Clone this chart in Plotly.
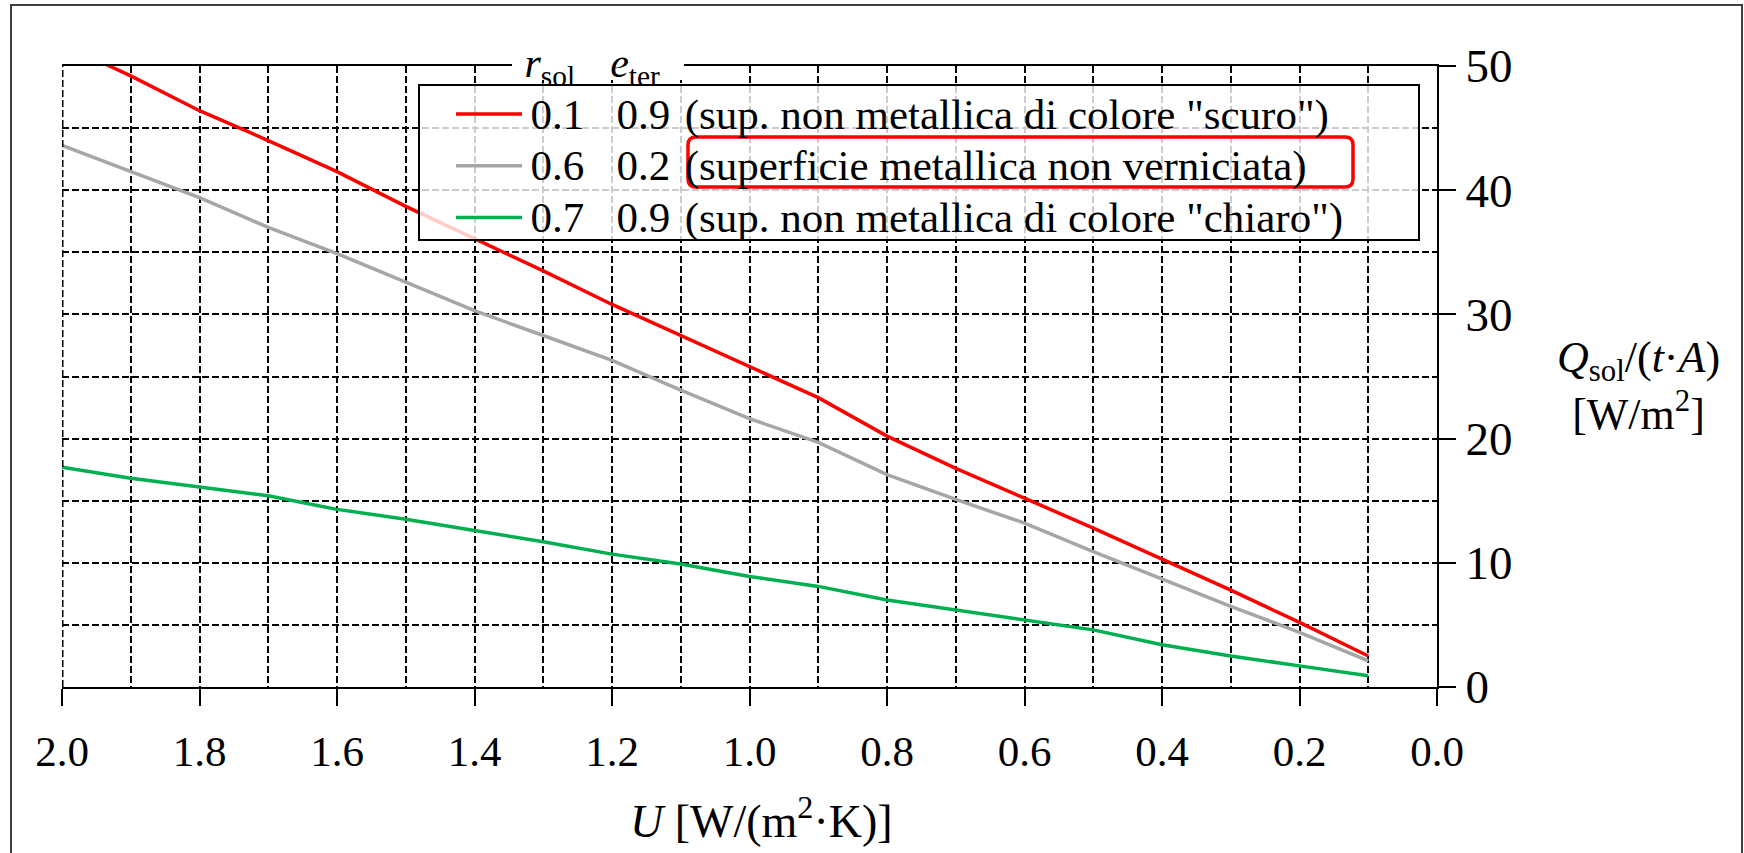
import plotly.graph_objects as go

# ---------------- data ----------------
U = [2.0, 1.9, 1.8, 1.7, 1.6, 1.5, 1.4, 1.3, 1.2, 1.1, 1.0, 0.9, 0.8, 0.7, 0.6, 0.5, 0.4, 0.3, 0.2, 0.1]
q_scuro = [51.8, 49.2, 46.4, 44.0, 41.5, 38.7, 36.1, 33.5, 30.8, 28.3, 25.8, 23.3, 20.2, 17.6, 15.2, 12.8, 10.3, 7.8, 5.2, 2.5]
q_metal = [43.6, 41.5, 39.4, 37.0, 34.9, 32.6, 30.3, 28.3, 26.3, 23.9, 21.6, 19.7, 17.1, 15.1, 13.2, 10.9, 8.7, 6.5, 4.4, 2.1]
q_chiaro = [17.7, 16.8, 16.1, 15.4, 14.3, 13.5, 12.6, 11.7, 10.7, 9.9, 8.9, 8.1, 7.0, 6.2, 5.35, 4.6, 3.4, 2.5, 1.7, 0.9]

r_sol = ["0.1", "0.6", "0.7"]
e_ter = ["0.9", "0.2", "0.9"]
descr = ['(sup. non metallica di colore "scuro")',
         '(superficie metallica non verniciata)',
         '(sup. non metallica di colore "chiaro")']
colors = ["#FF0000", "#A6A6A6", "#00B050"]

x_ticks = [2.0, 1.8, 1.6, 1.4, 1.2, 1.0, 0.8, 0.6, 0.4, 0.2, 0.0]
y_ticks = [0, 10, 20, 30, 40, 50]

# ---------------- layout helpers (pixel -> paper) ----------------
W, H = 1744, 853
L, R, T, B = 62, 1437, 66, 687


def xp(px):
    return (px - L) / (R - L)


def yp(py):
    return (B - py) / (B - T)


FONT = "Liberation Serif, Times New Roman, serif"
NB = "\u00a0"
HAIR = "\u200a"

fig = go.Figure()
for q, r, e, d, c in zip([q_scuro, q_metal, q_chiaro], r_sol, e_ter, descr, colors):
    label = f'<span style="font-size:43px">{HAIR}{r}{NB*3}{e}{NB}{HAIR}{d}</span>'
    fig.add_trace(go.Scatter(x=U, y=q, mode="lines", name=label,
                             line=dict(color=c, width=3.5)))

dash = "7px,3px"
fig.update_layout(
    width=W, height=H,
    margin=dict(l=L, r=W - R, t=T, b=H - B),
    paper_bgcolor="white", plot_bgcolor="white",
    font=dict(family=FONT, color="black", size=43),
    showlegend=True,
    legend=dict(x=xp(419), y=yp(83), xanchor="left", yanchor="top",
                bgcolor="rgba(0,0,0,0)", borderwidth=0,
                font=dict(size=37.5, family=FONT, color="black"), itemwidth=66,
                indentation=32, tracegroupgap=0),
    xaxis=dict(range=[2.0, 0.0], tickvals=x_ticks, ticktext=[f"{v:.1f}" for v in x_ticks],
               ticks="outside", ticklen=17, tickwidth=2, tickcolor="black",
               showline=True, linecolor="black", linewidth=2, mirror=True,
               showgrid=True, gridcolor="black", gridwidth=2, griddash=dash,
               minor=dict(tick0=0, dtick=0.1, showgrid=True, gridcolor="black",
                          gridwidth=2, griddash=dash, ticks=""),
               zeroline=False, tickfont=dict(size=43), ticklabelstandoff=8),
    yaxis=dict(range=[0, 50], side="right", tickvals=y_ticks,
               ticks="outside", ticklen=17, tickwidth=2, tickcolor="black",
               showline=True, linecolor="black", linewidth=2,
               showgrid=True, gridcolor="black", gridwidth=2, griddash=dash,
               minor=dict(tick0=0, dtick=5, showgrid=True, gridcolor="black",
                          gridwidth=2, griddash=dash, ticks=""),
               zeroline=False, tickfont=dict(size=47), ticklabelstandoff=0),
)

# left boundary (dashed, heavier)
fig.add_shape(type="line", xref="x", yref="y", x0=x_ticks[0], x1=x_ticks[0],
              y0=y_ticks[0], y1=y_ticks[-1], line=dict(color="black", width=3, dash=dash))

# legend box (semi-transparent so the grid shows faintly through it)
fig.add_shape(type="rect", xref="paper", yref="paper", x0=xp(419), x1=xp(1419),
              y0=yp(240), y1=yp(85), fillcolor="rgba(255,255,255,0.8)",
              line=dict(color="black", width=2), layer="above")

# gap in the top frame line for the legend header
fig.add_shape(type="rect", xref="paper", yref="paper", x0=xp(512), x1=xp(684),
              y0=yp(80), y1=yp(56), fillcolor="white", line=dict(width=0), layer="above")

# outer frame of the picture
fig.add_shape(type="rect", xref="paper", yref="paper", x0=xp(11), x1=xp(1742),
              y0=yp(900), y1=yp(5), line=dict(color="#404040", width=2), layer="above")


# red rounded rectangle highlighting the metallic surface entry
def rrect(x0, y0, x1, y1, r):
    pts = [("M", x0 + r, y0), ("L", x1 - r, y0), ("Q", x1, y0, x1, y0 + r),
           ("L", x1, y1 - r), ("Q", x1, y1, x1 - r, y1), ("L", x0 + r, y1),
           ("Q", x0, y1, x0, y1 - r), ("L", x0, y0 + r), ("Q", x0, y0, x0 + r, y0)]
    out = []
    for p in pts:
        coords = p[1:]
        s = [f"{xp(coords[i]):.5f},{yp(coords[i+1]):.5f}" for i in range(0, len(coords), 2)]
        out.append(p[0] + " ".join(s))
    return " ".join(out) + " Z"


fig.add_shape(type="path", xref="paper", yref="paper", path=rrect(688, 137, 1353, 187, 8),
              line=dict(color="#FF0000", width=3.5), layer="above")

# legend header sitting on the top frame line
fig.add_annotation(xref="paper", yref="paper", x=xp(512), y=yp(66), xanchor="left", yanchor="middle",
                   text=f"{NB}<i>r</i><sub>sol</sub>{NB*3}{HAIR}<i>e</i><sub>ter</sub>",
                   showarrow=False, font=dict(size=42, family=FONT, color="black"))

# axis titles
fig.add_annotation(xref="paper", yref="paper", x=xp(762), y=yp(818), xanchor="center", yanchor="middle",
                   text=f"<i>U</i>{NB}[W/(m<sup>2</sup>·K)]", showarrow=False,
                   font=dict(size=46, family=FONT, color="black"))
fig.add_annotation(xref="paper", yref="paper", x=xp(1638), y=yp(386), xanchor="center", yanchor="middle",
                   text="<i>Q</i><sub>sol</sub>/(<i>t</i>·<i>A</i>)<br>[W/m<sup>2</sup>]", showarrow=False,
                   font=dict(size=44, family=FONT, color="black"))

fig.write_html("out.html")
